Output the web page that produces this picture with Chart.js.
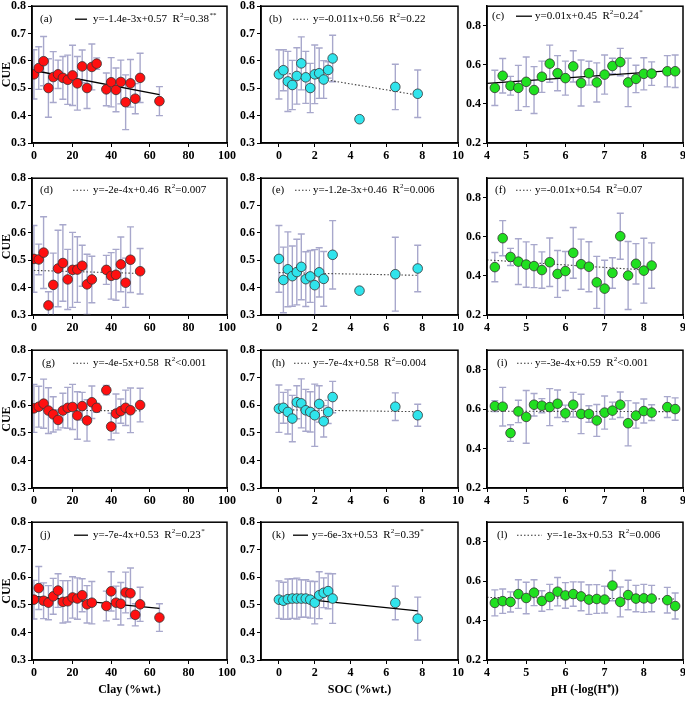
<!DOCTYPE html>
<html>
<head>
<meta charset="utf-8">
<script src="https://cdn.jsdelivr.net/npm/chart.js@4.4.1/dist/chart.umd.min.js"></script>
<style>
  html, body { margin: 0; padding: 0; background: #fff; overflow: hidden; }
  #wrap { position: relative; width: 685px; height: 707px; }
  #wrap canvas { position: absolute; }
</style>
</head>
<body>
<div id="wrap"></div>
<script>
// ---- data ----
const xA = [0,2.5,5,7.5,10,12.5,15,17.5,20,22.5,25,27.5,30,32.5,37.5,40,42.5,45,47.5,50,52.5,55,65];
const yA = [0.551,0.574,0.599,0.501,0.541,0.551,0.538,0.531,0.547,0.518,0.58,0.501,0.578,0.59,0.496,0.522,0.494,0.523,0.449,0.518,0.462,0.538,0.453];
const eA = [0.09,0.078,0.09,0.107,0.093,0.052,0.078,0.09,0.11,0.098,0.06,0.075,0.084,0.021,0.06,0.09,0.08,0.08,0.1,0.087,0.055,0.09,0.053];
const fitA = [[0,0.565],[65,0.477]];

const xB = [0,0.25,0.5,0.75,1,1.25,1.5,1.75,2,2.25,2.5,2.75,3,4.5,6.5,7.75];
const yB = [0.551,0.566,0.525,0.512,0.545,0.591,0.54,0.501,0.551,0.555,0.532,0.567,0.609,0.387,0.505,0.48];
const eB = [0.09,0.075,0.11,0.09,0.103,0.097,0.095,0.09,0.107,0.092,0.069,0.03,0.085,0,0.083,0.087];
const fitB = [[0,0.56],[7.75,0.475]];

const xC = [4.2,4.4,4.6,4.8,5,5.2,5.4,5.6,5.8,6,6.2,6.4,6.6,6.8,7,7.2,7.4,7.6,7.8,8,8.2,8.6,8.8];
const yC = [0.482,0.544,0.493,0.482,0.513,0.471,0.539,0.606,0.557,0.532,0.592,0.507,0.557,0.51,0.55,0.594,0.614,0.51,0.528,0.554,0.555,0.567,0.567];
const eC = [0.09,0.088,0.048,0.115,0.127,0.12,0.08,0.095,0.09,0.087,0.08,0.118,0.061,0.1,0.1,0.04,0.07,0.124,0.07,0.082,0.06,0.08,0.083];
const fitC = [[4,0.505],[8.8,0.572]];

const xD = [0,2.5,5,7.5,10,12.5,15,17.5,20,22.5,25,27.5,30,37.5,40,42.5,45,47.5,50,55];
const yD = [0.505,0.503,0.528,0.335,0.41,0.47,0.49,0.43,0.465,0.466,0.48,0.412,0.43,0.465,0.443,0.447,0.485,0.418,0.502,0.46];
const eD = [0.122,0.056,0.131,0.05,0.116,0.14,0.14,0.11,0.137,0.12,0.075,0.11,0.085,0.053,0.085,0.093,0.1,0.09,0.12,0.083];
const fitD = [[0,0.463],[55,0.452]];

const xE = [0,0.25,0.5,0.75,1,1.25,1.5,1.75,2,2.25,2.5,3,4.5,6.5,7.75];
const yE = [0.505,0.428,0.467,0.442,0.457,0.476,0.431,0.441,0.409,0.456,0.432,0.52,0.389,0.449,0.47];
const eE = [0.122,0.12,0.137,0.11,0.12,0.12,0.1,0.095,0.13,0.09,0.1,0.125,0,0.135,0.085];
const fitE = [[0,0.455],[7.75,0.445]];

const xF = [4.2,4.4,4.6,4.8,5,5.2,5.4,5.6,5.8,6,6.2,6.4,6.6,6.8,7,7.2,7.4,7.6,7.8,8,8.2];
const yF = [0.445,0.593,0.497,0.473,0.458,0.45,0.43,0.47,0.41,0.425,0.518,0.46,0.447,0.367,0.335,0.415,0.603,0.402,0.462,0.427,0.453];
const eF = [0.075,0.09,0.044,0.117,0.116,0.11,0.093,0.124,0.12,0.1,0.13,0.128,0.128,0.133,0.145,0.078,0.118,0.174,0.103,0.166,0.116];
const fitF = [[4,0.482],[8.2,0.428]];

const xG = [0,2.5,5,7.5,10,12.5,15,17.5,20,22.5,25,27.5,30,32.5,37.5,40,42.5,45,47.5,50,55];
const yG = [0.589,0.595,0.606,0.581,0.567,0.547,0.581,0.591,0.594,0.563,0.597,0.545,0.611,0.591,0.655,0.523,0.57,0.579,0.591,0.582,0.601];
const eG = [0.087,0.074,0.089,0.083,0.064,0.036,0.063,0.074,0.082,0.086,0.05,0.075,0.059,0.016,0.017,0.048,0.071,0.044,0.064,0.081,0.061];
const fitG = [[0,0.582],[55,0.58]];

const xH = [0,0.25,0.5,0.75,1,1.25,1.5,1.75,2,2.25,2.5,2.75,3,6.5,7.75];
const yH = [0.588,0.591,0.576,0.552,0.611,0.607,0.582,0.576,0.564,0.605,0.542,0.576,0.63,0.595,0.564];
const eH = [0.086,0.056,0.08,0.084,0.06,0.089,0.076,0.073,0.113,0.066,0.057,0.042,0.057,0.05,0.04];
const fitH = [[0,0.584],[7.75,0.577]];

const xI = [4.2,4.4,4.6,4.8,5,5.2,5.4,5.6,5.8,6,6.2,6.4,6.6,6.8,7,7.2,7.4,7.6,7.8,8,8.2,8.6,8.8];
const yI = [0.616,0.613,0.479,0.589,0.561,0.623,0.618,0.611,0.628,0.579,0.623,0.576,0.576,0.543,0.583,0.593,0.623,0.529,0.568,0.591,0.583,0.611,0.601];
const eI = [0.028,0.098,0.042,0.057,0.134,0.057,0.036,0.094,0.07,0.042,0.063,0.1,0.042,0.081,0.084,0.043,0.065,0.115,0.064,0.061,0.04,0.053,0.057];
const fitI = [[4,0.59],[8.8,0.588]];

const xJ = [0,2.5,5,7.5,10,12.5,15,17.5,20,22.5,25,27.5,30,37.5,40,42.5,45,47.5,50,52.5,55,65];
const yJ = [0.519,0.561,0.515,0.508,0.531,0.552,0.511,0.513,0.527,0.523,0.535,0.502,0.508,0.496,0.549,0.508,0.504,0.545,0.542,0.464,0.502,0.454];
const eJ = [0.07,0.078,0.065,0.062,0.065,0.061,0.077,0.075,0.075,0.075,0.06,0.068,0.077,0.054,0.071,0.06,0.077,0.074,0.092,0.04,0.062,0.05];
const fitJ = [[0,0.531],[65,0.487]];

const xK = [0,0.25,0.5,0.75,1,1.25,1.5,1.75,2,2.25,2.5,2.75,3,6.5,7.75];
const yK = [0.519,0.515,0.521,0.523,0.523,0.523,0.523,0.519,0.508,0.535,0.544,0.55,0.523,0.507,0.45];
const eK = [0.068,0.067,0.073,0.072,0.074,0.068,0.068,0.067,0.077,0.085,0.054,0.064,0.09,0.061,0.078];
const fitK = [[0,0.53],[7.75,0.478]];

const xL = [4.2,4.4,4.6,4.8,5,5.2,5.4,5.6,5.8,6,6.2,6.4,6.6,6.8,7,7.2,7.4,7.6,7.8,8,8.2,8.6,8.8];
const yL = [0.49,0.499,0.495,0.535,0.515,0.542,0.5,0.52,0.547,0.528,0.535,0.523,0.507,0.51,0.507,0.578,0.495,0.53,0.512,0.513,0.512,0.504,0.474];
const eL = [0.066,0.062,0.051,0.073,0.08,0.066,0.052,0.064,0.072,0.065,0.062,0.073,0.075,0.073,0.068,0.077,0.076,0.075,0.067,0.071,0.067,0.065,0.066];
const fitL = [[4,0.518],[8.8,0.51]];

const clayTicks = [0,20,40,60,80,100];
const socTicks = [0,2,4,6,8,10];
const phTicks = [4,5,6,7,8,9];
const cueTicks = [0.3,0.4,0.5,0.6,0.7,0.8];
const cueTicksPh = [0.2,0.4,0.6,0.8];
const xTitles = ['Clay (%wt.)', 'SOC (%wt.)', 'pH (-log(H\u207A))'];

// ---- layout ----
const serif = '"Liberation Serif", "Times New Roman", serif';
const cols = [
  { left: 32, right: 227, min: -1, max: 100, ticks: clayTicks, yMin: 0.3, yMax: 0.8, yTicks: cueTicks, color: '#ff1010' },
  { left: 261, right: 458, min: -1, max: 10, ticks: socTicks, yMin: 0.3, yMax: 0.8, yTicks: cueTicks, color: '#30e4ec' },
  { left: 487, right: 683, min: 4, max: 9, ticks: phTicks, yMin: 0.2, yMax: 0.9, yTicks: cueTicksPh, color: '#20e020' }
];
const rows = [
  { top: 5, bottom: 143 },
  { top: 177, bottom: 315 },
  { top: 349, bottom: 488 },
  { top: 521, bottom: 660 }
];

const panels = [
  { tag: '(a)', c: 0, r: 0, x: xA, y: yA, e: eA, fit: fitA, solid: true,  eq: 'y=-1.4e-3x+0.57', r2: '=0.38', star: '**', lx: [8, 43, 12, 61], ly: 13 },
  { tag: '(b)', c: 1, r: 0, x: xB, y: yB, e: eB, fit: fitB, solid: false, eq: 'y=-0.011x+0.56', r2: '=0.22', star: '', lx: [8, 32, 15, 52], ly: 13 },
  { tag: '(c)', c: 2, r: 0, x: xC, y: yC, e: eC, fit: fitC, solid: true,  eq: 'y=0.01x+0.45', r2: '=0.24', star: '*', lx: [5, 29, 16, 48], ly: 10 },
  { tag: '(d)', c: 0, r: 1, x: xD, y: yD, e: eD, fit: fitD, solid: false, eq: 'y=-2e-4x+0.46', r2: '=0.007', star: '', lx: [8, 41, 15, 61], ly: 12 },
  { tag: '(e)', c: 1, r: 1, x: xE, y: yE, e: eE, fit: fitE, solid: false, eq: 'y=-1.2e-3x+0.46', r2: '=0.006', star: '', lx: [11, 34, 15, 52], ly: 12 },
  { tag: '(f)', c: 2, r: 1, x: xF, y: yF, e: eF, fit: fitF, solid: false, eq: 'y=-0.01x+0.54', r2: '=0.07', star: '', lx: [8, 29, 15, 48], ly: 12 },
  { tag: '(g)', c: 0, r: 2, x: xG, y: yG, e: eG, fit: fitG, solid: false, eq: 'y=-4e-5x+0.58', r2: '<0.001', star: '', lx: [10, 41, 15, 61], ly: 13 },
  { tag: '(h)', c: 1, r: 2, x: xH, y: yH, e: eH, fit: fitH, solid: false, eq: 'y=-7e-4x+0.58', r2: '=0.004', star: '', lx: [11, 33, 15, 52], ly: 13 },
  { tag: '(i)', c: 2, r: 2, x: xI, y: yI, e: eI, fit: fitI, solid: false, eq: 'y=-3e-4x+0.59', r2: '<0.001', star: '', lx: [10, 30, 15, 48], ly: 13 },
  { tag: '(j)', c: 0, r: 3, x: xJ, y: yJ, e: eJ, fit: fitJ, solid: true,  eq: 'y=-7e-4x+0.53', r2: '=0.23', star: '*', lx: [8, 42, 14, 61], ly: 13 },
  { tag: '(k)', c: 1, r: 3, x: xK, y: yK, e: eK, fit: fitK, solid: true,  eq: 'y=-6e-3x+0.53', r2: '=0.39', star: '*', lx: [11, 32, 15, 51], ly: 13 },
  { tag: '(l)', c: 2, r: 3, x: xL, y: yL, e: eL, fit: fitL, solid: false, eq: 'y=-1e-3x+0.53', r2: '=0.006', star: '', lx: [10, 30, 25, 60], ly: 13 }
];

// error bars, drawn under the points
const errorBars = {
  id: 'errorBars',
  beforeDatasetsDraw(chart, args, opts) {
    const { ctx, chartArea: a } = chart;
    const xs = chart.scales.x, ys = chart.scales.y;
    ctx.save();
    ctx.beginPath();
    ctx.rect(a.left, a.top, a.right - a.left, a.bottom - a.top);
    ctx.clip();
    ctx.strokeStyle = '#a8a8cc';
    ctx.lineWidth = 1.4;
    opts.x.forEach((xv, i) => {
      const e = opts.e[i];
      if (!e) return;
      const px = xs.getPixelForValue(xv);
      const t = ys.getPixelForValue(opts.y[i] + e);
      const b = ys.getPixelForValue(opts.y[i] - e);
      ctx.beginPath();
      ctx.moveTo(px, t); ctx.lineTo(px, b);
      ctx.moveTo(px - 3.5, t); ctx.lineTo(px + 3.5, t);
      ctx.moveTo(px - 3.5, b); ctx.lineTo(px + 3.5, b);
      ctx.stroke();
    });
    ctx.restore();
  }
};

// frame box and the regression legend
const frameLegend = {
  id: 'frameLegend',
  afterDraw(chart, args, p) {
    const { ctx, chartArea: a } = chart;
    ctx.save();
    ctx.strokeStyle = '#000';
    ctx.lineWidth = 1.5;
    ctx.strokeRect(a.left, a.top, a.right - a.left, a.bottom - a.top);

    const y = a.top + p.ly;
    ctx.fillStyle = '#000';
    ctx.textBaseline = 'middle';
    ctx.font = '11px ' + serif;
    ctx.fillText(p.tag, a.left + p.lx[0], y);

    ctx.beginPath();
    if (p.solid) { ctx.strokeStyle = '#000'; ctx.lineWidth = 1.3; ctx.setLineDash([]); }
    else { ctx.strokeStyle = '#333'; ctx.lineWidth = 1.1; ctx.setLineDash([1.5, 2]); }
    ctx.moveTo(a.left + p.lx[1], y);
    ctx.lineTo(a.left + p.lx[1] + p.lx[2], y);
    ctx.stroke();
    ctx.setLineDash([]);

    let tx = a.left + p.lx[3];
    const eqText = p.eq + '  R';
    ctx.fillText(eqText, tx, y);
    tx += ctx.measureText(eqText).width;
    ctx.font = '7px ' + serif;
    ctx.fillText('2', tx, y - 4);
    tx += ctx.measureText('2').width;
    ctx.font = '11px ' + serif;
    ctx.fillText(p.r2, tx, y);
    tx += ctx.measureText(p.r2).width;
    if (p.star) {
      ctx.font = '7px ' + serif;
      ctx.fillText(p.star, tx + 0.5, y - 4);
    }
    ctx.restore();
  }
};

const wrap = document.getElementById('wrap');
const tickFont = { family: serif, size: 12, weight: 'bold' };

panels.forEach(p => {
  const col = cols[p.c], row = rows[p.r];
  const last = p.r === rows.length - 1;
  const axisH = last ? 40 : 24;
  const yW = 32, padTop = 8, padRight = 12;

  const cv = document.createElement('canvas');
  const w = (col.right - col.left) + yW + padRight;
  const h = padTop + (row.bottom - row.top) + axisH;
  cv.width = w; cv.height = h;
  cv.style.width = w + 'px'; cv.style.height = h + 'px';
  cv.style.left = (col.left - yW) + 'px';
  cv.style.top = (row.top - padTop) + 'px';
  wrap.appendChild(cv);

  new Chart(cv, {
    type: 'scatter',
    data: {
      datasets: [
        {
          data: p.x.map((v, i) => ({ x: v, y: p.y[i] })),
          pointRadius: 4.8,
          pointHoverRadius: 4.8,
          backgroundColor: col.color,
          borderColor: '#333',
          borderWidth: 0.8,
          order: 1
        },
        {
          type: 'line',
          data: p.fit.map(f => ({ x: f[0], y: f[1] })),
          showLine: true,
          pointRadius: 0,
          borderColor: p.solid ? '#000' : '#444',
          borderWidth: p.solid ? 1.3 : 1.1,
          borderDash: p.solid ? [] : [1.5, 2],
          order: 2
        }
      ]
    },
    options: {
      responsive: false,
      animation: false,
      layout: { padding: { top: padTop, right: padRight, left: 0, bottom: 0 } },
      plugins: {
        legend: { display: false },
        tooltip: { enabled: false },
        errorBars: { x: p.x, y: p.y, e: p.e },
        frameLegend: p
      },
      scales: {
        x: {
          type: 'linear',
          min: col.min, max: col.max,
          afterBuildTicks: s => { s.ticks = col.ticks.map(v => ({ value: v })); },
          afterFit: s => { s.height = axisH; },
          grid: { drawOnChartArea: false, tickLength: 4, color: '#000', lineWidth: 1 },
          border: { color: '#000', width: 1.5 },
          ticks: { font: tickFont, color: '#000', padding: 2, maxRotation: 0, autoSkip: false, callback: v => v },
          title: {
            display: last,
            text: xTitles[p.c],
            font: { family: serif, size: 12, weight: 'bold' },
            color: '#000',
            padding: { top: 0, bottom: 3 }
          }
        },
        y: {
          min: col.yMin, max: col.yMax,
          afterBuildTicks: s => { s.ticks = col.yTicks.map(v => ({ value: v })); },
          afterFit: s => { s.width = yW; },
          grid: { drawOnChartArea: false, tickLength: 4, color: '#000', lineWidth: 1 },
          border: { color: '#000', width: 1.5 },
          ticks: { font: tickFont, color: '#000', padding: 2, autoSkip: false, callback: v => v.toFixed(1) },
          title: {
            display: p.c === 0,
            text: 'CUE',
            font: { family: serif, size: 12, weight: 'bold' },
            color: '#000',
            padding: 0
          }
        }
      }
    },
    plugins: [errorBars, frameLegend]
  });
});
</script>
</body>
</html>
